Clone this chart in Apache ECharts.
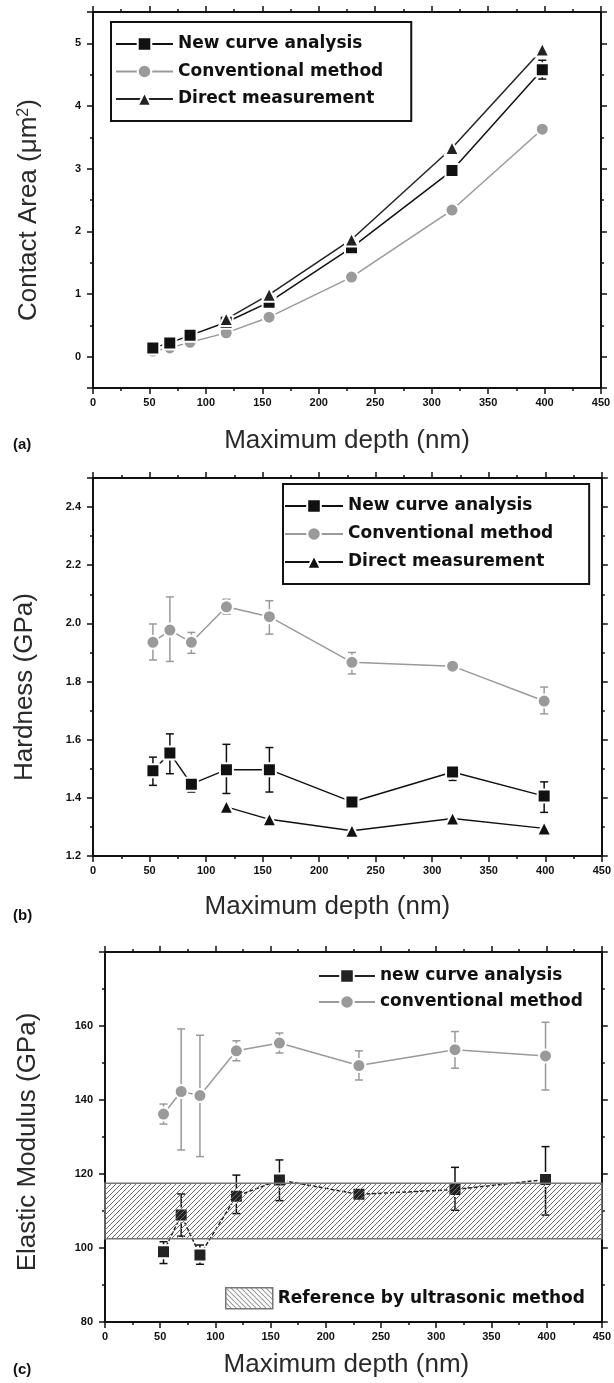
<!DOCTYPE html>
<html>
<head>
<meta charset="utf-8">
<script src="https://cdn.jsdelivr.net/npm/echarts@6/dist/echarts.min.js"></script>
<style>
  html, body { margin: 0; padding: 0; background: #fff; }
  #chart { width: 614px; height: 1383px; }
</style>
</head>
<body>
<div id="chart"></div>
<script>
// (a) contact area
var depthA = [53, 68, 86, 118, 156, 229, 318, 398]
var areaNew = [0.14, 0.22, 0.34, 0.55, 0.87, 1.74, 2.97, 4.58]
var areaNewErr = [0.02, 0.02, 0.02, 0.03, 0.04, 0.05, 0.06, 0.15]
var areaConv = [0.09, 0.14, 0.23, 0.38, 0.63, 1.27, 2.34, 3.63]
var depthDirectA = [118, 156, 229, 318, 398]
var areaDirect = [0.60, 0.99, 1.87, 3.33, 4.90]

// (b) hardness
var depthB = [53, 68, 87, 118, 156, 229, 318, 399]
var hardNew = [1.493, 1.554, 1.447, 1.497, 1.497, 1.386, 1.489, 1.406]
var hardNewLo = [1.443, 1.483, 1.420, 1.415, 1.420, 1.375, 1.460, 1.350]
var hardNewHi = [1.540, 1.620, 1.460, 1.584, 1.573, 1.395, 1.510, 1.455]
var hardConv = [1.935, 1.977, 1.935, 2.057, 2.023, 1.866, 1.853, 1.733]
var hardConvLo = [1.874, 1.869, 1.897, 2.032, 1.963, 1.826, 1.840, 1.689]
var hardConvHi = [1.998, 2.091, 1.969, 2.083, 2.078, 1.900, 1.866, 1.781]
var depthDirectB = [118, 156, 229, 318, 399]
var hardDirect = [1.369, 1.326, 1.287, 1.329, 1.295]

// (c) elastic modulus
var depthC = [53, 69, 86, 119, 158, 230, 317, 399]
var modNew = [99.0, 108.9, 98.1, 114.0, 118.4, 114.5, 115.8, 118.5]
var modNewLo = [95.8, 103.2, 95.6, 109.3, 112.8, 113.8, 110.2, 108.9]
var modNewHi = [101.7, 114.6, 100.8, 119.7, 123.8, 115.2, 121.8, 127.4]
var modConv = [136.2, 142.3, 141.2, 153.3, 155.4, 149.3, 153.6, 151.9]
var modConvLo = [133.5, 126.5, 124.7, 150.6, 152.7, 145.4, 148.6, 142.7]
var modConvHi = [138.9, 159.2, 157.5, 156.0, 158.1, 153.3, 158.5, 161.0]
var refBand = [102.5, 117.5]
var depthRange = [0, 450]

var BLACK = '#111'
var GRAY = '#9a9a9a'
var tickFont = { fontFamily: 'Liberation Sans', fontWeight: 'bold', fontSize: 11, color: '#111' }
var legendFont = { fontFamily: 'DejaVu Sans', fontWeight: 'bold', fontSize: 17, color: '#111', lineHeight: 20 }

function hatch(flip) {
  var c = document.createElement('canvas')
  c.width = 5
  c.height = 5
  var g = c.getContext('2d')
  g.strokeStyle = '#6a6a6a'
  g.lineWidth = 1
  g.beginPath()
  if (!flip) {
    g.moveTo(0, 5); g.lineTo(5, 0)
    g.moveTo(-1, 1); g.lineTo(1, -1)
    g.moveTo(4, 6); g.lineTo(6, 4)
  } else {
    g.moveTo(0, 0); g.lineTo(5, 5)
    g.moveTo(-1, 4); g.lineTo(1, 6)
    g.moveTo(4, -1); g.lineTo(6, 1)
  }
  g.stroke()
  return { image: c, repeat: 'repeat' }
}

function pairs(xs, ys) {
  return xs.map(function (x, i) { return [x, ys[i]] })
}

function xAxes(grid, name, gap, pad) {
  var base = {
    type: 'value', gridIndex: grid, min: depthRange[0], max: depthRange[1], interval: 50,
    axisLine: { onZero: false, lineStyle: { color: BLACK, width: 2 } },
    axisTick: { length: 6, lineStyle: { color: BLACK, width: 1.5 } },
    minorTick: { show: true, splitNumber: 2, length: 3, lineStyle: { color: BLACK, width: 1.5 } },
    splitLine: { show: false }
  }
  var bottom = Object.assign({}, base, {
    position: 'bottom',
    name: name, nameLocation: 'middle', nameGap: gap,
    nameTextStyle: { fontFamily: 'Liberation Sans', fontSize: 26, color: '#2a2a2a', padding: pad },
    axisLabel: Object.assign({ margin: 9 }, tickFont)
  })
  var top = Object.assign({}, base, { position: 'top', axisLabel: { show: false } })
  return [bottom, top]
}

function yAxes(grid, range, interval, minor, name, gap, pad, fmt, rich) {
  var base = {
    type: 'value', gridIndex: grid, min: range[0], max: range[1],
    axisLine: { onZero: false, lineStyle: { color: BLACK, width: 2 } },
    axisTick: { length: 6, lineStyle: { color: BLACK, width: 1.5 } },
    minorTick: { show: true, splitNumber: minor, length: 3, lineStyle: { color: BLACK, width: 1.5 } },
    splitLine: { show: false }
  }
  if (interval) base.interval = interval
  else base.splitNumber = 6
  var left = Object.assign({}, base, {
    position: 'left',
    name: name, nameLocation: 'middle', nameGap: gap,
    nameTextStyle: { fontFamily: 'Liberation Sans', fontSize: 26, color: '#2a2a2a', padding: pad, rich: rich },
    axisLabel: Object.assign({ margin: 12, showMinLabel: !!interval, showMaxLabel: false, formatter: fmt }, tickFont)
  })
  var right = Object.assign({}, base, { position: 'right', axisLabel: { show: false } })
  return [left, right]
}

function errBars(color, width) {
  return function (params, api) {
    var x = api.value(0)
    var lo = api.coord([x, api.value(1)])
    var hi = api.coord([x, api.value(2)])
    var w = 4
    var style = { stroke: color, lineWidth: width }
    return {
      type: 'group',
      children: [
        { type: 'line', shape: { x1: lo[0], y1: lo[1], x2: hi[0], y2: hi[1] }, style: style },
        { type: 'line', shape: { x1: lo[0] - w, y1: lo[1], x2: lo[0] + w, y2: lo[1] }, style: style },
        { type: 'line', shape: { x1: hi[0] - w, y1: hi[1], x2: hi[0] + w, y2: hi[1] }, style: style }
      ]
    }
  }
}

// panel p uses xAxis/yAxis 2p (bottom/left); 2p+1 are the mirrored top/right axes
function errSeries(p, xs, lo, hi, color) {
  return {
    type: 'custom', xAxisIndex: p * 2, yAxisIndex: p * 2, silent: true, z: 1,
    renderItem: errBars(color, 1.5),
    encode: { x: 0, y: [1, 2] },
    data: xs.map(function (x, i) { return [x, lo[i], hi[i]] })
  }
}

function lineSeries(name, p, data, color, symbol, size, dash) {
  return {
    name: name, type: 'line', xAxisIndex: p * 2, yAxisIndex: p * 2, z: 2,
    symbol: symbol, symbolSize: size, showAllSymbol: true,
    lineStyle: { color: color, width: 1.5, type: dash || 'solid' },
    itemStyle: { color: color, borderColor: '#fff', borderWidth: 2 },
    data: data
  }
}

var chart = echarts.init(document.getElementById('chart'))

var xs = [].concat(
  xAxes(0, 'Maximum depth (nm)', 40, [0, 0, 0, 0]),
  xAxes(1, 'Maximum depth (nm)', 38, [0, 40, 0, 0]),
  xAxes(2, 'Maximum depth (nm)', 30, [0, 14, 0, 0])
)
var ys = [].concat(
  yAxes(0, [-0.5, 5.5], null, 2, 'Contact Area (μm{sup|2})', 51, [0, 20, 0, 0],
    function (v) { return String(v) },
    { sup: { fontFamily: 'Liberation Sans', fontSize: 16, color: '#2a2a2a', verticalAlign: 'top', padding: [0, 0, 10, 0] } }),
  yAxes(1, [1.2, 2.5], 0.2, 2, 'Hardness (GPa)', 55, [0, 40, 0, 0],
    function (v) { return v.toFixed(1) }),
  yAxes(2, [80, 180], 20, 2, 'Elastic Modulus (GPa)', 64, [0, 10, 0, 0],
    function (v) { return String(v) })
)

var bandA = hatch(false)
var bandB = hatch(true)

chart.setOption({
  animation: false,
  backgroundColor: '#fff',
  title: [
    { text: '(a)', left: 8, top: 432, textStyle: { fontFamily: 'Liberation Sans', fontWeight: 'bold', fontSize: 15, color: '#111' } },
    { text: '(b)', left: 8, top: 903, textStyle: { fontFamily: 'Liberation Sans', fontWeight: 'bold', fontSize: 15, color: '#111' } },
    { text: '(c)', left: 8, top: 1357, textStyle: { fontFamily: 'Liberation Sans', fontWeight: 'bold', fontSize: 15, color: '#111' } }
  ],
  grid: [
    { left: 93, top: 12, width: 508, height: 376 },
    { left: 93, top: 478, width: 509, height: 378 },
    { left: 105, top: 952, width: 497, height: 370 }
  ],
  xAxis: xs,
  yAxis: ys,
  legend: [
    {
      orient: 'vertical', left: 111, top: 22, padding: [12, 28, 12, 4], itemGap: 7.5,
      itemWidth: 57, itemHeight: 17, borderColor: BLACK, borderWidth: 2,
      textStyle: legendFont, selectedMode: false,
      data: ['New curve analysis', 'Conventional method', 'Direct measurement']
    },
    {
      orient: 'vertical', left: 283, top: 484, padding: [12, 30, 12, 1], itemGap: 8,
      itemWidth: 58, itemHeight: 17, borderColor: BLACK, borderWidth: 2,
      textStyle: legendFont, selectedMode: false,
      data: ['New curve analysis ', 'Conventional method ', 'Direct measurement ']
    },
    {
      orient: 'vertical', left: 318, top: 966, padding: 0, itemGap: 6,
      itemWidth: 56, itemHeight: 17,
      textStyle: legendFont, selectedMode: false,
      data: [{ name: 'new curve analysis', lineStyle: { type: 'solid' } }, 'conventional method']
    },
    {
      orient: 'vertical', left: 225, top: 1287, padding: 0,
      itemWidth: 47, itemHeight: 21,
      textStyle: legendFont, selectedMode: false,
      data: [{ name: 'Reference by ultrasonic method', icon: 'rect', itemStyle: { color: bandB, borderColor: '#777', borderWidth: 1.5 } }]
    }
  ],
  series: [
    // (a)
    errSeries(0, depthA, areaNew.map(function (v, i) { return v - areaNewErr[i] }),
      areaNew.map(function (v, i) { return v + areaNewErr[i] }), BLACK),
    lineSeries('Conventional method', 0, pairs(depthA, areaConv), GRAY, 'circle', 13),
    lineSeries('New curve analysis', 0, pairs(depthA, areaNew), BLACK, 'rect', 13),
    lineSeries('Direct measurement', 0, pairs(depthDirectA, areaDirect), '#222', 'triangle', 14),
    // (b)
    errSeries(1, depthB, hardConvLo, hardConvHi, GRAY),
    errSeries(1, depthB, hardNewLo, hardNewHi, BLACK),
    lineSeries('Conventional method ', 1, pairs(depthB, hardConv), GRAY, 'circle', 13),
    lineSeries('New curve analysis ', 1, pairs(depthB, hardNew), BLACK, 'rect', 13),
    lineSeries('Direct measurement ', 1, pairs(depthDirectB, hardDirect), BLACK, 'triangle', 14),
    // (c)
    errSeries(2, depthC, modConvLo, modConvHi, GRAY),
    errSeries(2, depthC, modNewLo, modNewHi, BLACK),
    lineSeries('conventional method', 2, pairs(depthC, modConv), GRAY, 'circle', 13),
    lineSeries('new curve analysis', 2, pairs(depthC, modNew), '#222', 'rect', 13, [4, 2]),
    {
      name: 'Reference by ultrasonic method', type: 'custom', xAxisIndex: 4, yAxisIndex: 4,
      z: 5, silent: true,
      itemStyle: { color: bandB },
      encode: { x: [0, 1], y: [2, 3] },
      data: [[depthRange[0], depthRange[1], refBand[0], refBand[1]]],
      renderItem: function (params, api) {
        var p0 = api.coord([api.value(0), api.value(3)])
        var p1 = api.coord([api.value(1), api.value(2)])
        return {
          type: 'rect',
          shape: { x: p0[0], y: p0[1], width: p1[0] - p0[0], height: p1[1] - p0[1] },
          style: { fill: bandA, stroke: '#777', lineWidth: 1.5 }
        }
      }
    }
  ]
})
</script>
</body>
</html>
